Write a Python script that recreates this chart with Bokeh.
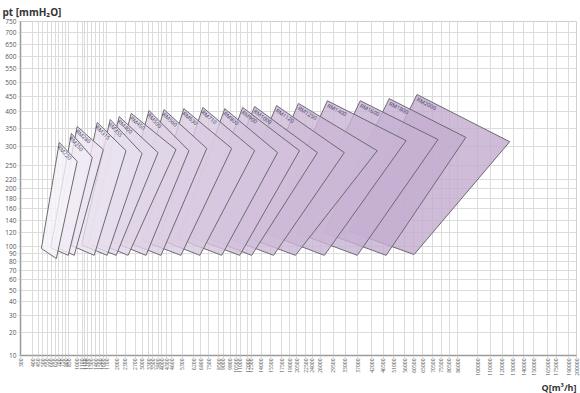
import math
import numpy as np
from bokeh.plotting import figure
from bokeh.models import ColumnDataSource, FixedTicker, CustomJSTickFormatter, Title, Range1d
from bokeh.core.properties import value
from bokeh.embed import file_html
from bokeh.resources import INLINE

# ---------------- data (Q in m3/h, pt in mmH2O) ----------------
models = ["RM220", "RM250", "RM280", "RM315", "RM355", "RM400", "RM450", "RM500", "RM560", "RM630",
          "RM710", "RM800", "RM900", "RM1000", "RM1120", "RM1250", "RM1400", "RM1600", "RM1800", "RM2000"]
# top-left corner (max pressure, min flow)
q_top = [705, 895, 1000, 1440, 1800, 2090, 2530, 3320, 4130, 5430,
         6970, 9160, 11330, 12990, 16550, 20840, 27820, 37900, 49020, 62070]
p_top = [310, 335, 355, 367, 376, 385, 395, 404, 407, 410,
         414, 410, 414, 417, 420, 427, 436, 436, 443, 457]
# right corner (max flow)
q_right = [1000, 1320, 1600, 2330, 2990, 3790, 4880, 5810, 7330, 9960,
           12990, 16730, 21060, 25230, 32700, 44140, 56640, 73570, 91500, 126590]
p_right = [261, 271, 291, 288, 281, 283, 291, 288, 294, 294,
           288, 283, 288, 283, 283, 288, 315, 318, 324, 312]
# bottom corner
q_bottom = [664, 843, 946, 1365, 1709, 1986, 2409, 3175, 3953, 5221,
            6707, 8829, 10943, 12558, 16020, 20206, 27017, 36884, 47753, 60544]
p_bottom = [84, 88, 88, 88, 88, 88, 88, 88, 88, 88,
            88, 88, 88, 88, 88, 88, 88, 88, 88, 89]
# left-bottom corner
q_left = [484, 592, 633, 896, 1089, 1222, 1444, 1878, 2293, 3004,
          3825, 5019, 6155, 6950, 8851, 11133, 14992, 20692, 26912, 34266]
p_left = [97, 98, 100, 101, 102, 103, 105, 106, 107, 108,
          110, 111, 112, 114, 115, 116, 118, 119, 120, 122]

x_ticks = [300, 400, 450, 500, 550, 600, 650, 700, 750, 800, 850, 1000, 1100, 1150, 1200, 1300,
           1400, 1500, 1600, 1700, 2000, 2300, 2700, 3000, 3300, 3500, 3800, 4000, 4300, 4600,
           5300, 6200, 6800, 7500, 8500, 9000, 9800, 10500, 11000, 12000, 12500, 14000, 15500,
           17500, 19000, 20500, 22500, 24000, 26000, 29500, 33000, 37000, 42000, 46500, 51000,
           56000, 60500, 65000, 70500, 75500, 80500, 86000, 100000, 110000, 120000, 130000,
           140000, 150000, 165000, 175000, 190000, 200000]
y_ticks = [10, 20, 30, 40, 50, 60, 70, 80, 90, 100, 120, 140, 160, 180, 200, 220, 250,
           300, 350, 400, 450, 500, 550, 600, 650, 700, 750]

# ---------------- axis transforms ----------------
PX, PY = 0.2, 0.4
def tx(q):
    return np.asarray(q, dtype=float) ** PX
def ty(p):
    return np.asarray(p, dtype=float) ** PY

X0, X1 = 300 ** PX, 200000 ** PX
Y0, Y1 = 10 ** PY, 750 ** PY
FRAME_W, FRAME_H = 556, 334

W, H = 580, 393
p = figure(width=W, height=H, output_backend="svg", toolbar_location=None,
           x_range=Range1d(X0, X1), y_range=Range1d(Y0, Y1),
           min_border_left=20, min_border_right=4, min_border_top=21, min_border_bottom=38,
           background_fill_color="white", border_fill_color="white")
p.outline_line_color = "#cfcfcf"

# y-axis title at the top-left
p.title.text = "pt [mmH₂O]"
p.title.align = "left"
p.title.offset = -18
p.title.standoff = 5
p.title.text_font = "Open Sans"
p.title.text_font_size = "10px"
p.title.text_font_style = "bold"
p.title.text_color = "#333333"

# axes
p.xaxis.ticker = FixedTicker(ticks=list(tx(x_ticks)))
p.yaxis.ticker = FixedTicker(ticks=list(ty(y_ticks)))
p.xaxis.formatter = CustomJSTickFormatter(code="return Math.round(Math.pow(tick, 5)).toString();")
p.yaxis.formatter = CustomJSTickFormatter(code="return Math.round(Math.pow(tick, 2.5)).toString();")
for ax in (p.xaxis, p.yaxis):
    ax.axis_line_color = "#9a9a9a"
    ax.axis_line_width = 1.5
    ax.major_tick_line_color = "#c8c8c8"
    ax.major_tick_out = 2
    ax.major_tick_in = 0
    ax.minor_tick_line_color = None
    ax.major_label_text_color = "#555555"
    ax.major_label_text_font = "Open Sans"
    ax.major_label_standoff = 2
p.xaxis.major_label_standoff = 1
p.yaxis.major_label_text_font_size = "6.5px"
p.xaxis.major_label_text_font_size = "5px"
p.xaxis.major_label_orientation = math.pi / 2

p.xgrid.ticker = p.xaxis.ticker
p.ygrid.ticker = p.yaxis.ticker
p.xgrid.grid_line_color = "#dcdcdc"
p.ygrid.grid_line_color = "#dcdcdc"

# x-axis title at the bottom-right
p.add_layout(Title(text="Q[m³/h]", align="right", text_font="Open Sans", text_font_size="9px",
                   text_font_style="bold", text_color="#333333", standoff=0,
                   text_line_height=1.0), "below")

# ---------------- shapes ----------------
n = len(models)
c0 = np.array([246, 242, 249])
c1 = np.array([194, 171, 207])
colors = []
for i in range(n):
    t = (i / (n - 1)) ** 0.8
    c = (c0 + (c1 - c0) * t).round().astype(int)
    colors.append("#%02x%02x%02x" % tuple(c))

xs, ys = [], []
for i in range(n):
    xs.append(list(tx([q_top[i], q_right[i], q_bottom[i], q_left[i]])))
    ys.append(list(ty([p_top[i], p_right[i], p_bottom[i], p_left[i]])))

order = list(range(n))[::-1]  # largest drawn first, smallest on top
src = ColumnDataSource(dict(xs=[xs[i] for i in order], ys=[ys[i] for i in order],
                            color=[colors[i] for i in order]))
p.patches("xs", "ys", source=src, fill_color="color", fill_alpha=0.8,
          line_color="#6e6a70", line_width=1)

# labels along the top edge
sx = FRAME_W / (X1 - X0)
sy = FRAME_H / (Y1 - Y0)
angles = []
for i in range(n):
    dx = (tx(q_right[i]) - tx(q_top[i])) * sx
    dy = (ty(p_right[i]) - ty(p_top[i])) * sy
    angles.append(math.atan2(dy, dx))
lsrc = ColumnDataSource(dict(x=list(tx(q_top)), y=list(ty(p_top)), text=models, angle=angles))
p.text("x", "y", text="text", angle="angle", source=lsrc, text_font=value("Open Sans"),
       text_font_size="5.5px", text_color="#3c3c5a", text_align="left", text_baseline="top",
       x_offset=2, y_offset=1)

open("out.html", "w").write(file_html(p, INLINE))
